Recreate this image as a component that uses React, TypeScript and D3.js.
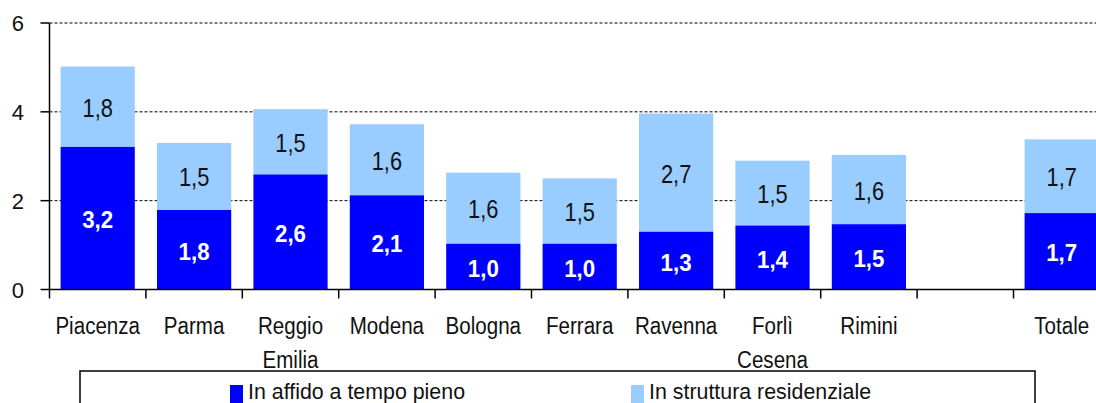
import React from "react";
import * as d3 from "d3";

const categories: string[][] = [
  ["Piacenza"], ["Parma"], ["Reggio", "Emilia"], ["Modena"], ["Bologna"], ["Ferrara"],
  ["Ravenna"], ["Forlì", "Cesena"], ["Rimini"], [""], ["Totale"],
];
const affido: (number | null)[] = [3.21, 1.79, 2.59, 2.12, 1.03, 1.03, 1.3, 1.44, 1.47, null, 1.72];
const struttura: (number | null)[] = [1.81, 1.51, 1.47, 1.6, 1.6, 1.47, 2.66, 1.46, 1.56, null, 1.66];
const yTicks = [0, 2, 4, 6];
const seriesNames = ["In affido a tempo pieno", "In struttura residenziale"];

const W = 1096, H = 403;
const DARK = "#0000FF", LIGHT = "#99CCFF";
const FONT = "'Liberation Sans', Arial, sans-serif";
const SX = 0.84;

function CText(props: { x: number; y: number; size: number; fill?: string; weight?: string; sx?: number; children: React.ReactNode }) {
  const { x, y, size, fill = "#111", weight = "normal", sx = SX, children } = props;
  return (
    <g transform={`translate(${x},${y})`}>
      <text transform={`scale(${sx},1)`} textAnchor="middle" fontSize={size} fontWeight={weight} fill={fill}>{children}</text>
    </g>
  );
}

export default function App() {
  const x0 = 49.5;
  const band = 96.4;
  const n = categories.length;
  const x = d3.scaleBand<number>().domain(categories.map((_, i) => i)).range([x0, x0 + band * n]).paddingInner(0.23).paddingOuter(0.115);
  const y = d3.scaleLinear().domain([0, 6]).range([289.5, 23]);
  const fmt = (v: number) => d3.format(".1f")(v).replace(".", ",");
  const tickPos = d3.range(n + 1).map((i) => x0 + i * band);

  return (
    <svg width={W} height={H} style={{ position: "absolute", left: 0, top: 0, background: "#fff" }} fontFamily={FONT}>
      {yTicks.filter((t) => t > 0).map((t) => (
        <line key={t} x1={x0} x2={W} y1={y(t)} y2={y(t)} stroke="#000" strokeWidth={1} strokeDasharray="3,2" />
      ))}
      {categories.map((_, i) => {
        const a = affido[i], s = struttura[i];
        if (a == null || s == null) return null;
        const bx = x(i)!, bw = x.bandwidth();
        const cx = bx + bw / 2;
        return (
          <g key={i}>
            <rect x={bx} y={y(a + s)} width={bw} height={y(a) - y(a + s)} fill={LIGHT} />
            <rect x={bx} y={y(a)} width={bw} height={y(0) - y(a)} fill={DARK} />
            <CText x={cx} y={(y(a + s) + y(a)) / 2 + 10} size={26}>{fmt(s)}</CText>
            <CText x={cx} y={(y(a) + y(0)) / 2 + 10} size={23.5} weight="bold" fill="#fff" sx={0.95}>{fmt(a)}</CText>
          </g>
        );
      })}
      <line x1={x0} x2={x0} y1={y(6)} y2={y(0)} stroke="#000" strokeWidth={1.5} />
      {yTicks.map((t) => (
        <g key={t}>
          <line x1={x0 - 9} x2={x0} y1={y(t)} y2={y(t)} stroke="#000" strokeWidth={1.5} />
          <text x={24} y={y(t) + 8} textAnchor="end" fontSize={22} fill="#111">{t}</text>
        </g>
      ))}
      <line x1={x0} x2={W} y1={y(0)} y2={y(0)} stroke="#000" strokeWidth={1.5} />
      {tickPos.map((p, i) => (
        <line key={i} x1={p} x2={p} y1={y(0)} y2={y(0) + 9} stroke="#000" strokeWidth={1.5} />
      ))}
      {categories.map((lines, i) => (
        <g key={i}>
          {lines.map((l, j) => (
            <CText key={j} x={x(i)! + x.bandwidth() / 2} y={334 + j * 34} size={24.5}>{l}</CText>
          ))}
        </g>
      ))}
      <rect x={80} y={371} width={955} height={60} fill="#fff" stroke="#000" strokeWidth={1.5} />
      {seriesNames.map((nm, i) => (
        <g key={nm} transform={`translate(${i === 0 ? 230 : 631},0)`}>
          <rect x={0} y={385} width={13} height={18} fill={i === 0 ? DARK : LIGHT} />
          <g transform="translate(18,399)">
            <text transform="scale(0.93,1)" fontSize={23} fill="#111">{nm}</text>
          </g>
        </g>
      ))}
    </svg>
  );
}
